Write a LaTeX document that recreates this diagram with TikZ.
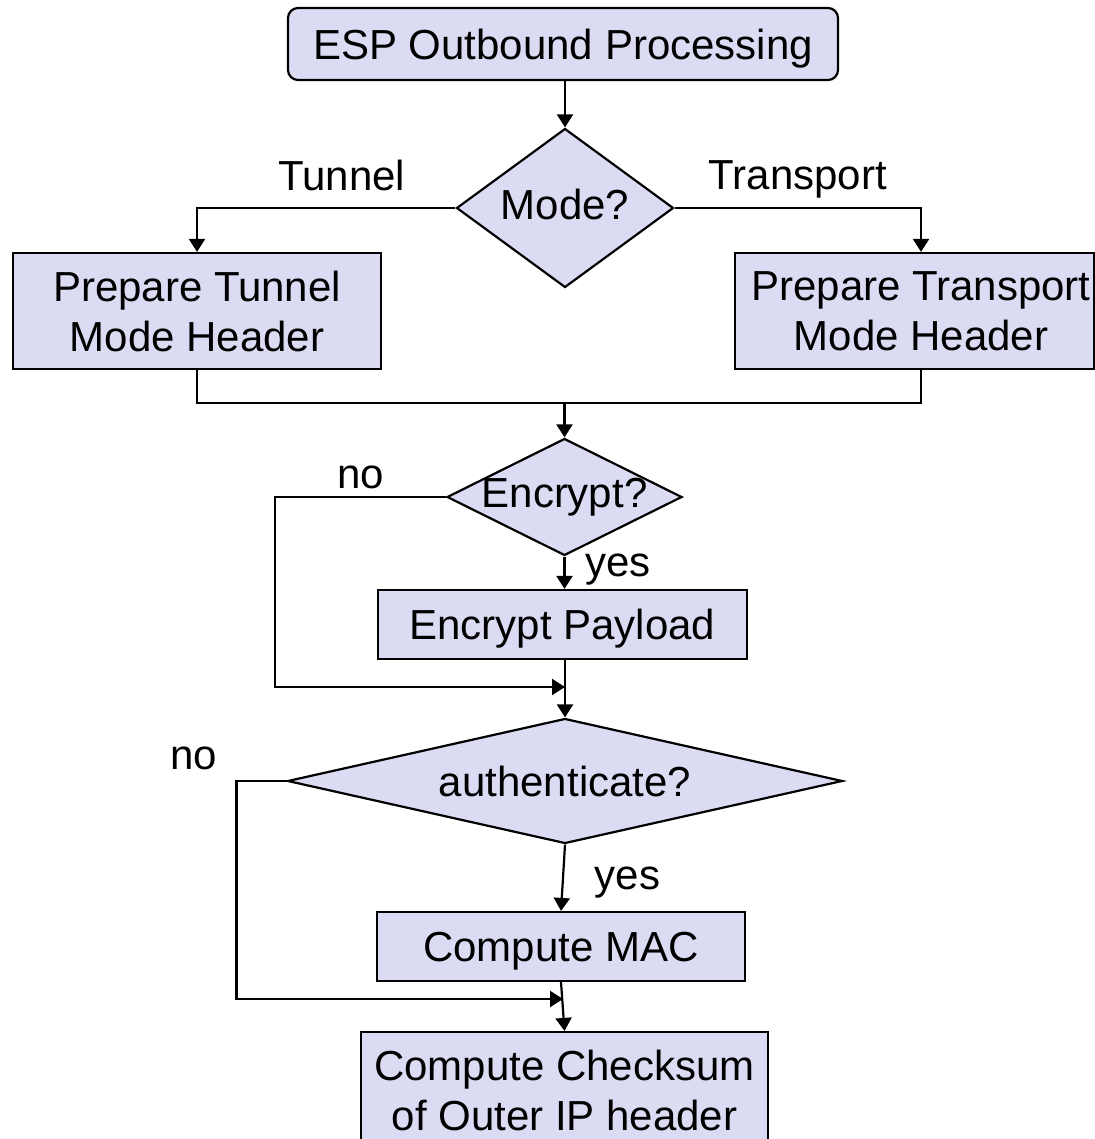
\documentclass[tikz,border=0pt]{standalone}
\usepackage{fontspec}
\setmainfont{Liberation Sans}
\usepackage{xcolor}
\usetikzlibrary{positioning, shapes.geometric, arrows.meta, calc}
\definecolor{boxfill}{RGB}{219,219,244}
\begin{document}
\begin{tikzpicture}[x=0.5pt,y=-0.5pt,
    line width=1.1pt,
    font=\fontsize{21}{25}\selectfont,
    arrow/.style={-{Triangle[length=6.5pt,width=8pt]}},
    procbox/.style={draw, fill=boxfill, rectangle, align=center, inner sep=0pt},
    onerow/.style={text depth=0pt},
    decision/.style={draw, fill=boxfill, diamond, inner sep=0pt},
    lbl/.style={inner sep=2pt}]
      \useasboundingbox (0,0) rectangle (1094,1139);
      \node[procbox, onerow, rounded corners=5pt, minimum width=275pt, minimum height=36pt] (start) at (563,44) {ESP Outbound Processing};
      \node[decision, minimum width=108.5pt, minimum height=79.5pt] (mode) at (565,208) {\makebox[0pt]{\raisebox{3.5pt}{Mode?}}};
      \node[procbox, minimum width=184pt, minimum height=58pt] (tunnel) at (197,311) {Prepare Tunnel\\Mode Header};
      \node[procbox, minimum width=179.5pt, minimum height=58pt] (transport) at (914.5,311) {\hspace*{6.5pt}Prepare Transport\\\hspace*{6.5pt}Mode Header};
      \node[decision, minimum width=117.5pt, minimum height=58.5pt] (encrypt) at (564.5,497) {\makebox[0pt]{Encrypt?}};
      \node[procbox, onerow, minimum width=184.5pt, minimum height=34.5pt] (payload) at (562.5,624.5) {Encrypt Payload};
      \node[decision, minimum width=277.5pt, minimum height=62.5pt] (auth) at (565,781) {\makebox[0pt]{authenticate?}};
      \node[procbox, onerow, minimum width=184pt, minimum height=34.5pt] (mac) at (561,946.5) {Compute MAC};
      \node[procbox, minimum width=203.5pt, minimum height=58pt] (checksum) at (564.5,1090) {Compute Checksum\\of Outer IP header};
      \coordinate (join1) at (564.5,403);
      \coordinate (join2) at (565,687);
      \coordinate (join3) at (563,999);
      % mode branches
      \draw[arrow] (start.south -| mode.north) -- (mode.north);
      \draw[arrow] (mode.west) -| node[lbl, above=6pt, pos=0.22]{Tunnel} (tunnel.north);
      \draw[arrow] (mode.east) -| node[lbl, above=2.5pt, pos=0.25]{Transport} ([xshift=3.25pt]transport.north);
      \draw (tunnel.south) |- (join1) -| ([xshift=3.25pt]transport.south);
      \draw[arrow] (join1) -- (encrypt.north);
      % encryption
      \draw[arrow] (encrypt.west) -- node[lbl, above=1.5pt]{no} ++(-171,0) |- (join2);
      \draw[arrow] (encrypt.south) -- node[lbl, right=8pt, pos=0.4]{yes} (payload.north -| encrypt.south);
      \draw[arrow] (payload.south -| auth.north) -- (auth.north);
      % authentication
      \draw[arrow] (auth.west) -- ++(-50,0) node[lbl, above left=3pt and 7pt]{no} |- (join3);
      \draw[arrow] (auth.south) -- node[lbl, right=13.5pt, pos=0.57]{yes} (mac.north);
      \draw[arrow] (mac.south) -- (checksum.north);
\end{tikzpicture}
\end{document}
